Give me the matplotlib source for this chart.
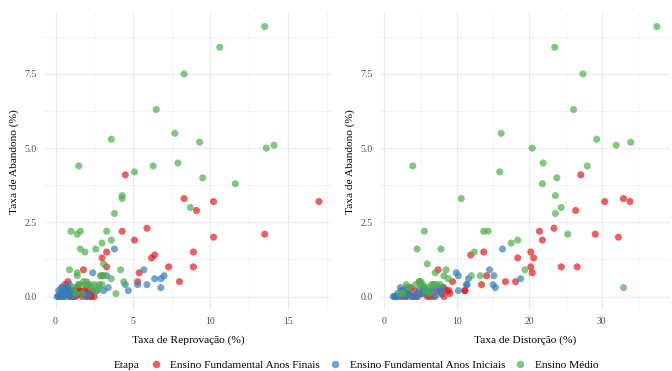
import matplotlib
matplotlib.use("Agg")
import matplotlib.pyplot as plt
from matplotlib.lines import Line2D
from matplotlib.ticker import MultipleLocator, FormatStrFormatter

plt.rcParams["font.family"] = ["Liberation Serif", "DejaVu Serif"]

# Taxas por etapa: reprovação, distorção idade-série e abandono (%)
etapas = ["Ensino Fundamental Anos Finais", "Ensino Fundamental Anos Iniciais", "Ensino Médio"]
cores = ["#E41A1C", "#377EB8", "#4DAF4A"]

finais_reprovacao = [17.0, 10.2, 8.3, 13.5, 10.2, 9.1, 4.5, 5.9, 4.3, 5.1, 8.9, 3.3, 6.4, 6.2, 3.0,
                     8.9, 7.3, 3.3, 1.8, 5.4, 3.0, 8.0, 5.3, 0.8, 0.6, 1.0, 1.5,
                     1.0, 1.2, 1.3, 1.5, 1.6, 1.7, 1.8, 1.9, 2.0, 2.1, 2.2, 2.3, 2.4, 1.4, 1.1,
                     2.0, 0.7, 2.5, 1.6, 1.2, 1.9, 2.2, 0.9]
finais_distorcao = [33.9, 30.4, 33.0, 29.1, 32.3, 26.4, 27.1, 23.4, 21.4, 21.8, 20.2, 13.7, 11.9, 20.6, 18.4,
                    26.6, 24.4, 20.2, 7.4, 20.4, 14.1, 18.1, 16.7, 9.4, 13.4, 11.1, 8.9,
                    3.0, 3.3, 5.9, 4.2, 6.0, 2.8, 7.9, 8.6, 6.8, 5.2, 9.0, 4.0, 7.2, 8.2, 2.6,
                    3.6, 5.5, 6.3, 11.1, 4.6, 3.1, 8.2, 2.3]
finais_abandono = [3.2, 3.2, 3.3, 2.1, 2.0, 2.9, 4.1, 2.3, 2.2, 1.9, 1.5, 1.5, 1.4, 1.3, 1.3,
                   1.0, 1.0, 1.0, 0.9, 0.8, 0.7, 0.5, 0.5, 0.5, 0.4, 0.2, 0.2,
                   0.0, 0.1, 0.0, 0.2, 0.1, 0.0, 0.1, 0.2, 0.0, 0.1, 0.1, 0.0, 0.2, 0.3, 0.2,
                   0.3, 0.3, 0.0, 0.2, 0.0, 0.1, 0.0, 0.0]

iniciais_reprovacao = [3.8, 5.7, 7.0, 6.8, 6.4, 6.8, 5.9, 5.3, 4.7, 2.4, 4.5, 3.4, 3.3, 3.1, 2.7, 2.2, 1.3,
                       0.1, 0.2, 0.3, 0.3, 0.4, 0.5, 0.5, 0.6, 0.7, 0.8, 0.9, 1.0, 1.1, 0.4, 0.2,
                       0.6, 0.8, 1.2, 0.3, 0.7, 1.5, 0.9, 1.8, 2.0, 0.5, 0.6, 1.0, 0.2, 0.4]
iniciais_distorcao = [16.3, 14.5, 15.1, 18.8, 11.6, 15.3, 15.0, 11.4, 10.2, 9.9, 11.3, 8.0, 10.2, 7.5, 6.5, 5.2, 3.0,
                      1.2, 1.5, 1.8, 2.0, 2.3, 1.4, 2.6, 3.0, 3.4, 2.2, 4.0, 4.6, 5.3, 3.1, 2.8,
                      5.8, 6.3, 7.0, 4.4, 7.6, 6.8, 5.0, 7.8, 3.9, 3.6, 4.8, 6.1, 1.6, 5.5]
iniciais_abandono = [1.6, 0.9, 0.7, 0.6, 0.6, 0.3, 0.4, 0.4, 0.2, 0.8, 0.4, 0.3, 0.7, 0.2, 0.2, 0.1, 0.1,
                     0.0, 0.0, 0.1, 0.0, 0.2, 0.0, 0.1, 0.0, 0.1, 0.3, 0.0, 0.1, 0.2, 0.3, 0.2,
                     0.1, 0.2, 0.0, 0.0, 0.3, 0.4, 0.4, 0.1, 0.0, 0.0, 0.2, 0.1, 0.0, 0.3]

medio_reprovacao = [13.5, 10.6, 8.3, 6.5, 7.7, 3.6, 9.3, 14.1, 13.6, 1.5, 6.3, 7.9, 5.1, 9.5, 11.6,
                    4.3, 4.3, 8.7, 3.8, 1.0, 1.6, 3.3, 1.4, 3.6, 3.0, 1.6, 2.6, 1.9, 3.1, 0.9,
                    4.2, 1.4, 1.4, 3.6, 4.4, 3.9, 2.8, 3.1, 2.9,
                    1.5, 1.7, 1.9, 2.1, 2.3, 2.5, 2.8, 2.0, 1.2, 2.6, 3.0, 1.8, 2.2, 1.3]
medio_distorcao = [37.6, 23.5, 27.4, 26.1, 16.1, 29.3, 34.0, 32.0, 20.4, 3.9, 28.0, 21.9, 15.9, 23.8, 21.8,
                   23.6, 10.6, 24.4, 23.6, 5.5, 13.7, 14.3, 25.3, 18.4, 17.5, 4.5, 7.8, 12.4, 5.9, 19.4,
                   8.5, 7.0, 8.2, 8.8, 4.8, 6.2, 33.0, 13.2, 12.0,
                   3.0, 2.6, 4.3, 5.3, 6.0, 6.5, 7.2, 4.8, 3.4, 5.6, 7.7, 5.0, 6.8, 2.2]
medio_abandono = [9.1, 8.4, 7.5, 6.3, 5.5, 5.3, 5.2, 5.1, 5.0, 4.4, 4.4, 4.5, 4.2, 4.0, 3.8,
                  3.4, 3.3, 3.0, 2.8, 2.2, 2.2, 2.2, 2.1, 1.9, 1.8, 1.6, 1.6, 1.5, 1.1, 0.9,
                  0.9, 0.8, 0.7, 0.6, 0.5, 0.1, 0.3, 0.7, 0.7,
                  0.4, 0.1, 0.4, 0.4, 0.3, 0.4, 0.4, 0.5, 0.3, 0.2, 0.4, 0.5, 0.4, 0.1]

grupos = [
    (finais_reprovacao, finais_distorcao, finais_abandono),
    (iniciais_reprovacao, iniciais_distorcao, iniciais_abandono),
    (medio_reprovacao, medio_distorcao, medio_abandono),
]

W, H = 672, 371
fig = plt.figure(figsize=(W / 100, H / 100), dpi=100)

def box(x0, x1, y0, y1):
    return [x0 / W, 1 - y1 / H, (x1 - x0) / W, (y1 - y0) / H]

ax1 = fig.add_axes(box(44, 332, 13, 310))
ax2 = fig.add_axes(box(380, 670, 13, 310))

grid_major = "#EBEBEB"
tick_color = "#4D4D4D"
fs_title = 8.2
fs_tick = 7.0

for ax, col, xlabel, step in [(ax1, 0, "Taxa de Reprovação (%)", 5),
                               (ax2, 1, "Taxa de Distorção (%)", 10)]:
    for (vals, cor) in zip(grupos, cores):
        ax.scatter(vals[col], vals[2], s=26, color=cor, alpha=0.7,
                   edgecolors="none", zorder=3)
    ax.margins(x=0.05, y=0.05)
    ax.xaxis.set_major_locator(MultipleLocator(step))
    ax.xaxis.set_minor_locator(MultipleLocator(step / 2))
    ax.yaxis.set_major_locator(MultipleLocator(2.5))
    ax.yaxis.set_minor_locator(MultipleLocator(1.25))
    ax.yaxis.set_major_formatter(FormatStrFormatter("%.1f"))
    ax.grid(which="major", color=grid_major, linewidth=0.9, zorder=0)
    ax.grid(which="minor", color="#F2F2F2", linewidth=0.6, zorder=0)
    for s in ax.spines.values():
        s.set_visible(False)
    ax.tick_params(which="both", length=0, labelsize=fs_tick, labelcolor=tick_color)
    ax.tick_params(axis="y", pad=5)
    ax.tick_params(axis="x", pad=5)
    ax.set_xlabel(xlabel, fontsize=fs_title, labelpad=7)
    ax.set_ylabel("Taxa de Abandono (%)", fontsize=fs_title, labelpad=4)
    ax.set_axisbelow(True)

handles = [Line2D([], [], marker="o", linestyle="none", markersize=5.4,
                  markerfacecolor=c, markeredgecolor="none", alpha=0.7) for c in cores]
fig.text(114 / W, 1 - 365 / H, "Etapa", fontsize=fs_title, va="center", ha="left")
fig.legend(handles, etapas, loc="center left", bbox_to_anchor=(150 / W, 1 - 365 / H),
           ncol=3, frameon=False, fontsize=fs_title, handlelength=1.0, handletextpad=0.8,
           columnspacing=0.8, borderpad=0, borderaxespad=0)

fig.savefig("out.png", dpi=100)
